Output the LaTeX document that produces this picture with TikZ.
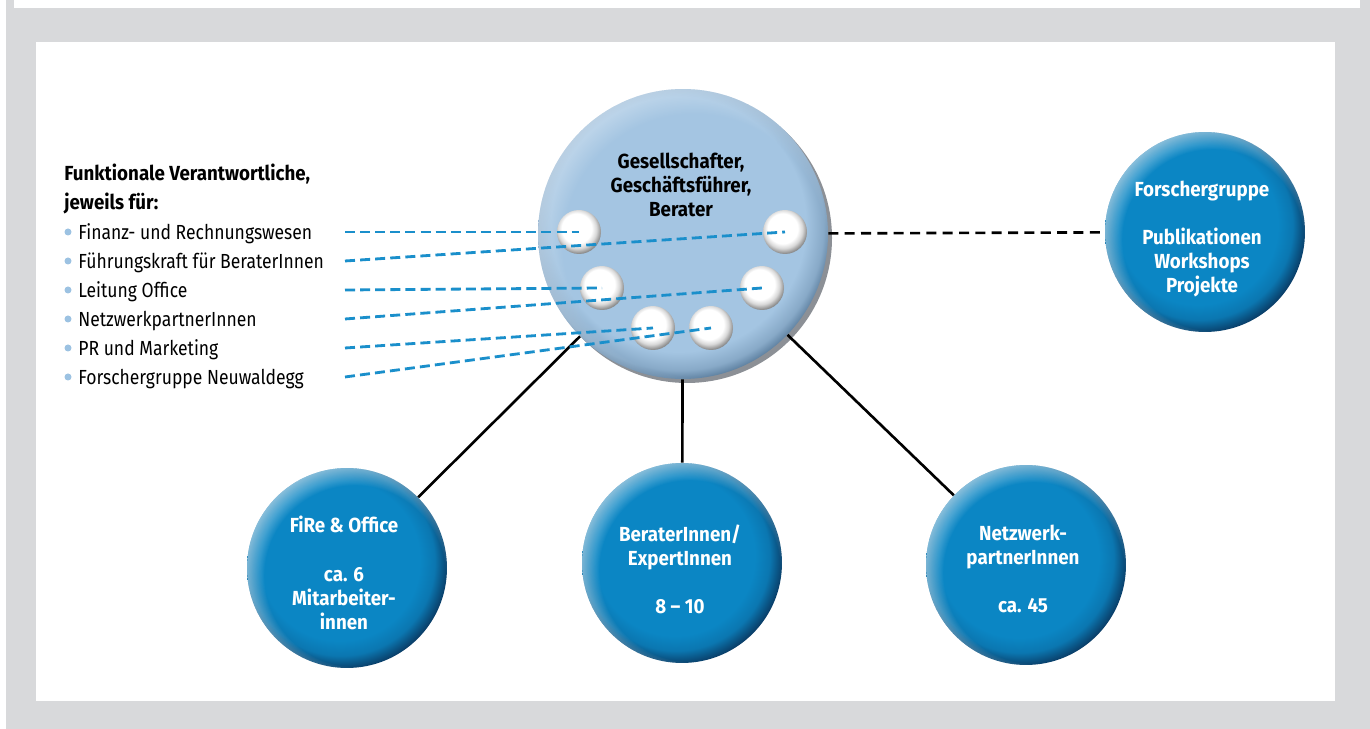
\documentclass[tikz,border=0pt]{standalone}
\usepackage{fontspec}
\setmainfont[UprightFeatures={FakeStretch=0.86},BoldFeatures={FakeStretch=0.92}]{Fira Sans}
\usetikzlibrary{fadings}

\definecolor{panelgray}{HTML}{D8D9DB}
\definecolor{btnblue}{HTML}{0B86C4}
\definecolor{btndark}{HTML}{0A3A63}
\definecolor{headblue}{HTML}{A4C5E2}
\definecolor{headdark}{HTML}{46698A}
\definecolor{rimgray}{HTML}{8C9096}
\definecolor{dashblue}{HTML}{1A8FCB}
\definecolor{dotblue}{HTML}{9CC2E2}

% blue buttons: flat centre, dark rim on the lower right (path fits 25bp)
\pgfdeclareradialshading{bluebutton}{\pgfpoint{-3bp}{3bp}}{%
  color(0bp)=(btnblue); color(20bp)=(btnblue); color(23.5bp)=(btnblue!80!btndark);
  color(27bp)=(btndark); color(31bp)=(btndark!80!black); color(50bp)=(btndark!80!black)}
% light blue head button
\pgfdeclareradialshading{headbutton}{\pgfpoint{-1.5bp}{3bp}}{%
  color(0bp)=(headblue); color(22bp)=(headblue); color(25bp)=(headblue!70!headdark);
  color(27.5bp)=(headdark); color(50bp)=(headdark)}
% white balls
\pgfdeclareradialshading{knobshade}{\pgfpoint{-4bp}{6bp}}{%
  color(0bp)=(white); color(17bp)=(white); color(22bp)=(black!15); color(27bp)=(black!45);
  color(32bp)=(black!60); color(50bp)=(black!60)}
% glow on the upper left rim
\pgfdeclareradialshading{rimmask}{\pgfpoint{3.5bp}{-3.5bp}}{%
  color(0bp)=(black); color(22.5bp)=(black); color(28bp)=(white); color(50bp)=(white)}
\pgfdeclarefading{rimglow}{\pgfuseshading{rimmask}}

\begin{document}
\begin{tikzpicture}[x=0.02cm,y=0.02cm]
        %
        % `item' is one line of the list, `fline' its dashed link.
        % `bluebtn' and `headbtn' are the buttons, `knob' the small balls.
        \tikzstyle{heading} = [font=\bfseries\fontsize{11.6}{13.7}\selectfont,inner sep=0pt,anchor=base west]
        \tikzstyle{item} = [font=\fontsize{11.6}{13.7}\selectfont,inner sep=0pt,anchor=west,text height=8pt,text depth=0pt]
        \tikzstyle{btntext} = [font=\bfseries\fontsize{11.6}{13.7}\selectfont,align=center,text=white]
        \tikzstyle{bluebtn} = [circle,shade,shading=bluebutton,minimum size=4cm,inner sep=0pt,
                               postaction={fill=white,fill opacity=0.6,path fading=rimglow}]
        \tikzstyle{headbtn} = [circle,shade,shading=headbutton,minimum size=5.8cm,inner sep=0pt,
                               postaction={fill=white,fill opacity=0.4,path fading=rimglow}]
        \tikzstyle{knob} = [circle,shade,shading=knobshade,minimum size=0.88cm,inner sep=0pt]
        \tikzstyle{link} = [line width=1.5pt]
        \tikzstyle{dlink} = [line width=1.5pt,dash pattern=on 5.7pt off 3.6pt]
        \tikzstyle{fline} = [dashblue,line width=1.6pt,dash pattern=on 5.7pt off 2.9pt]
        %
        % Page and panel
        \useasboundingbox (0,0) rectangle (1370,729);
        \fill[panelgray] (6,0) rectangle (1370,729);
        \fill[white] (14,721) rectangle (1360,729);
        \fill[white] (36,28) rectangle (1335,687);
        %
        % Head button with its balls
        \fill[rimgray] (687,491) circle (145);
        \node[headbtn] (head) at (683,495) {};
        \node[btntext,text=black] (headtxt) at (681,544) {Gesellschafter,\\Geschäftsführer,\\Berater};
        \node[knob] (s1) at (579,497) {};
        \node[knob] (s2) at (785,497) {};
        \node[knob] (s3) at (602,441) {};
        \node[knob] (s4) at (762,441) {};
        \node[knob] (s5) at (653,401) {};
        \node[knob] (s6) at (711,401) {};
        %
        % Research group
        \node[bluebtn] (forsch) at (1205,497) {};
        \node[btntext] (forschtxt) at (1202,490) {Forschergruppe\\[13.7pt]Publikationen\\Workshops\\Projekte};
        %
        % Bottom row
        \node[bluebtn] (fire) at (347,161) {};
        \node[btntext] (firetxt) at (344,156) {FiRe \& Office\\[13.7pt]ca. 6\\Mitarbeiter-\\innen};
        \node[bluebtn] (berater) at (682,166) {};
        \node[btntext] (beratertxt) at (680,160) {BeraterInnen/\\ExpertInnen\\[13.7pt]8 – 10};
        \node[bluebtn] (netz) at (1026,164) {};
        \node[btntext] (netztxt) at (1023,160) {Netzwerk-\\partnerInnen\\[13.7pt]ca. 45};
        %
        % Links
        \draw[link] (head) -- (fire);
        \draw[link] (head) -- (berater);
        \draw[link] (head) -- (netz);
        \draw[dlink] (head) -- (forsch);
        %
        % List
        \node[heading] (title1) at (64,548) {Funktionale Verantwortliche,};
        \node[heading] (title2) at (64,519) {jeweils für:};
        \node[item] (fin) at (78,497) {Finanz- und Rechnungswesen};
        \node[item] (fuehr) at (78,468) {Führungskraft für BeraterInnen};
        \node[item] (leit) at (78,439) {Leitung Office};
        \node[item] (netzp) at (78,410) {NetzwerkpartnerInnen};
        \node[item] (pr) at (78,381) {PR und Marketing};
        \node[item] (fg) at (78,352) {Forschergruppe Neuwaldegg};
        \foreach \n in {fin,fuehr,leit,netzp,pr,fg}
          \fill[dotblue] (\n.west) ++(-10,0) circle (3.5);
        %
        % Dashed links from the list to the balls
        \coordinate (lstart) at (345,0);
        \draw[fline] (fin -| lstart) -- (s1.center);
        \draw[fline] (fuehr -| lstart) -- (s2.center);
        \draw[fline] (leit -| lstart) -- (s3.center);
        \draw[fline] (netzp -| lstart) -- (s4.center);
        \draw[fline] (pr -| lstart) -- (s5.center);
        \draw[fline] (fg -| lstart) -- (s6.center);
        %
\end{tikzpicture}
\end{document}
